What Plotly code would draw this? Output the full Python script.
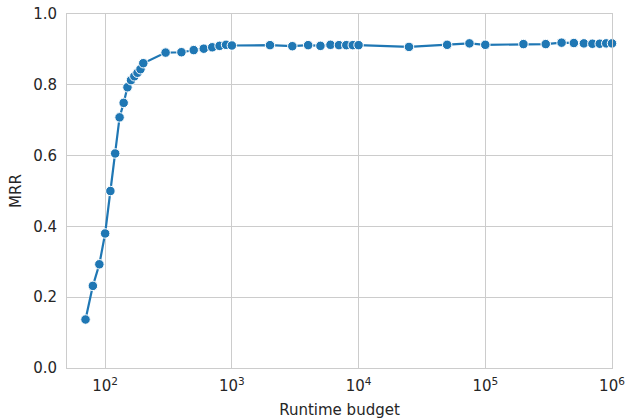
import numpy as np
import plotly.graph_objects as go

runtime_budget = [70, 80, 90, 100, 110, 120, 130, 140, 150, 160, 170, 180, 190, 200,
                  300, 400, 500, 600, 700, 800, 900, 1000,
                  2000, 3000, 4000, 5000, 6000, 7000, 8000, 9000, 10000,
                  25000, 50000, 75000, 100000,
                  200000, 300000, 400000, 500000, 600000, 700000, 800000, 900000, 1000000]
mrr = [0.137, 0.232, 0.293, 0.380, 0.500, 0.606, 0.708, 0.749, 0.793, 0.813, 0.824, 0.834, 0.844, 0.861,
       0.891, 0.892, 0.898, 0.902, 0.906, 0.910, 0.913, 0.911,
       0.912, 0.909, 0.912, 0.910, 0.913, 0.912, 0.912, 0.912, 0.912,
       0.907, 0.913, 0.917, 0.913,
       0.915, 0.915, 0.919, 0.918, 0.917, 0.916, 0.916, 0.917, 0.917]

x_tick_vals = [1e2, 1e3, 1e4, 1e5, 1e6]
x_tick_text = ["10<sup>2</sup>", "10<sup>3</sup>", "10<sup>4</sup>", "10<sup>5</sup>", "10<sup>6</sup>"]
y_tick_vals = [0.0, 0.2, 0.4, 0.6, 0.8, 1.0]

fig = go.Figure()
fig.add_trace(go.Scatter(
    x=runtime_budget, y=mrr, mode="lines+markers",
    line=dict(color="#1f77b4", width=2.2),
    marker=dict(size=9.5, color="#1f77b4", line=dict(color="white", width=1)),
    showlegend=False, cliponaxis=False,
))

axis_font = dict(family="DejaVu Sans", size=15, color="#262626")
fig.update_layout(
    width=628, height=419,
    margin=dict(l=67, r=16, t=14, b=51, autoexpand=False),
    paper_bgcolor="white", plot_bgcolor="white",
    font=axis_font,
    xaxis=dict(
        type="log", range=[np.log10(50), 6], automargin=False,
        tickvals=x_tick_vals, ticktext=x_tick_text,
        showgrid=True, gridcolor="#cccccc", gridwidth=1,
        showline=True, linecolor="#cccccc", linewidth=1, mirror=True,
        ticks="", ticklen=0, zeroline=False, ticklabelstandoff=4,
        title=dict(text="Runtime budget", font=axis_font, standoff=10),
        tickfont=axis_font,
    ),
    yaxis=dict(
        range=[0, 1], tickvals=y_tick_vals, tickformat=".1f", automargin=False,
        showgrid=True, gridcolor="#cccccc", gridwidth=1,
        showline=True, linecolor="#cccccc", linewidth=1, mirror=True,
        ticks="", zeroline=False, ticklabelstandoff=6,
        title=dict(text="MRR", font=axis_font, standoff=7),
        tickfont=axis_font,
    ),
)

fig.write_html("out.html", config={"displayModeBar": False},
               post_script="document.body.style.margin='0px';document.body.style.overflow='hidden';")
